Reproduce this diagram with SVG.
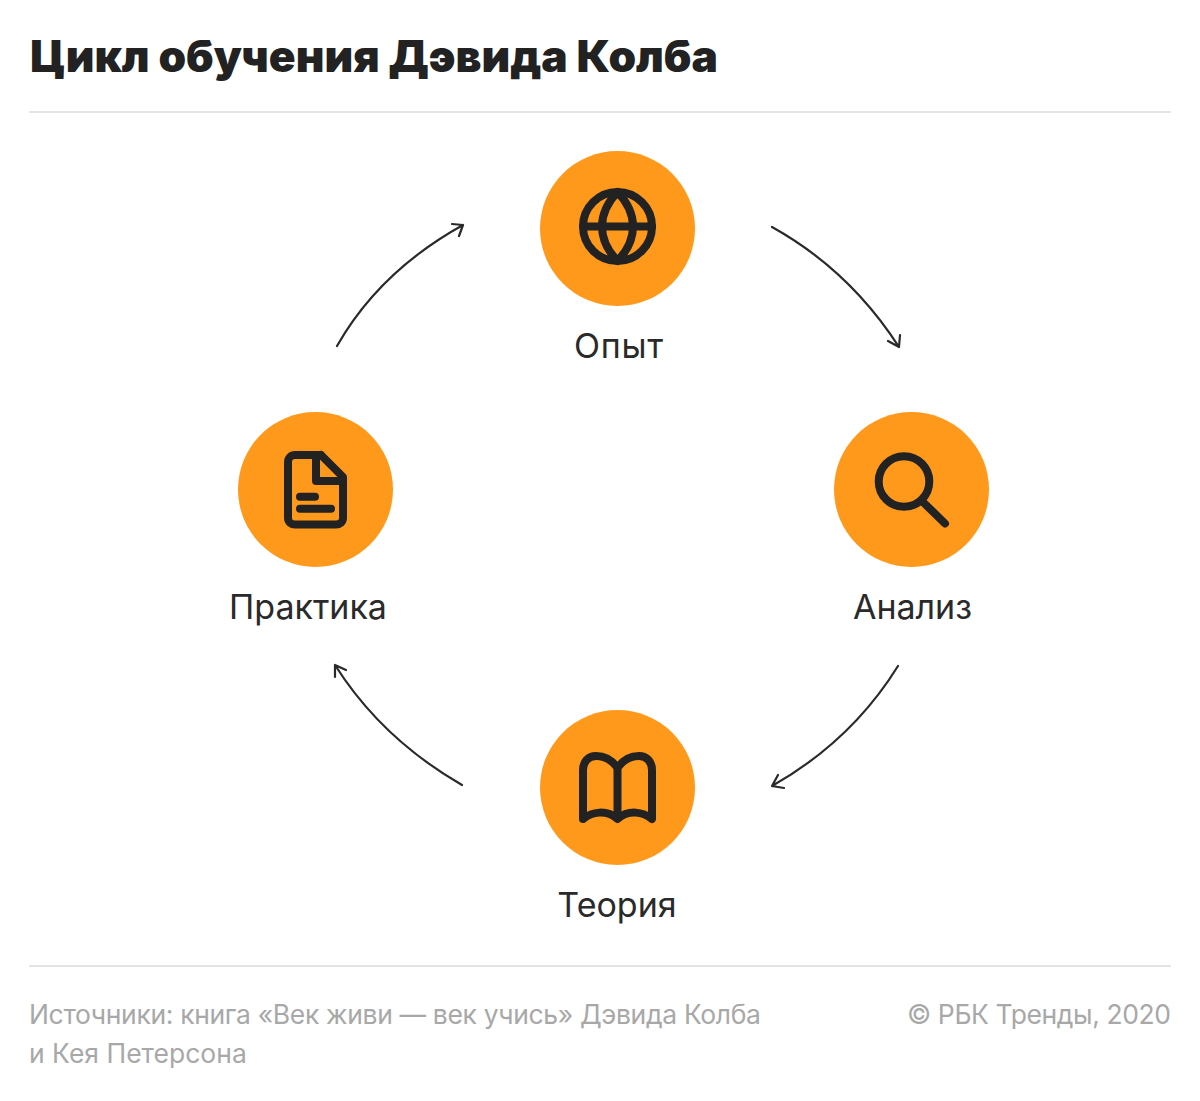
<svg xmlns="http://www.w3.org/2000/svg" width="1200" height="1101" viewBox="0 0 1200 1101">
<style>
text{font-family:"Inter","Roboto","Liberation Sans",sans-serif}
.title{font-size:44px;font-weight:900;fill:#222222}
.lab{font-size:34px;fill:#2a2a2a;text-anchor:middle;font-weight:400}
.foot{font-size:26.5px;fill:#a8a8a8}
.rule{stroke:#e4e4e4;stroke-width:2;fill:none}
.disc{fill:#ff991c}
.ic{fill:none;stroke:#222222;stroke-width:8;stroke-linecap:round;stroke-linejoin:round}
.arc{fill:none;stroke:#2a2a2a;stroke-width:2.2;stroke-linecap:round;stroke-linejoin:round}
</style>
<rect width="1200" height="1101" fill="#ffffff"/>
<text class="title" x="30" y="72" textLength="688" lengthAdjust="spacingAndGlyphs">Цикл обучения Дэвида Колба</text>
<path class="rule" d="M29 112H1171M29 966H1171"/>
<g id="connectors">
<path class="arc" d="M772 227C826 257 868 299 899 347M888 341L899 347L900 335"/>
<path class="arc" d="M898 666C867 716 825 756 772 786M784 788L772 786L778 775"/>
<path class="arc" d="M462 785C410 755 366 714 335 665M335 677L335 665L346 670"/>
<path class="arc" d="M337 346C366 295 409 255 463 225M452 224L463 225L459 236"/>
</g>
<g id="node-opyt">
<circle class="disc" cx="617.500" cy="228.500" r="77.500"/>
<circle class="ic" cx="617.500" cy="226.500" r="34.500"/>
<path class="ic" d="M583 226.500H652M617.500 192C607 203 602 215 602 226.500S607 250 617.500 261C628 250 633 238 633 226.500S628 203 617.500 192Z"/>
<text class="lab" x="618.500" y="358" textLength="89">Опыт</text>
</g>
<g id="node-analiz">
<circle class="disc" cx="911.500" cy="489.500" r="77.500"/>
<circle class="ic" cx="904" cy="481.500" r="25.300"/>
<path class="ic" d="M924 503L945 523.500"/>
<text class="lab" x="912.500" y="619" textLength="119">Анализ</text>
</g>
<g id="node-teoriya">
<circle class="disc" cx="617.500" cy="787.500" r="77.500"/>
<path class="ic" d="M617.500 768C612 760 604 756 596 756C588 756 583 762 583 770V819C592 812 606 809 617.500 819C629 809 643 812 652 819V770C652 762 647 756 639 756C631 756 623 760 617.500 768V817"/>
<text class="lab" x="617" y="917">Теория</text>
</g>
<g id="node-praktika">
<circle class="disc" cx="315.500" cy="489.500" r="77.500"/>
<path class="ic" d="M321 455H295C291 455 288 458 288 462V518C288 522 291 524.500 295 524.500H336C340 524.500 343 522 343 518V477L321 455M316 455V481H343"/>
<path class="ic" d="M300 496.700H315M300 508.700H331"/>
<text class="lab" x="308" y="619">Практика</text>
</g>
<text class="foot" x="29" y="1024" textLength="732">Источники: книга «Век живи — век учись» Дэвида Колба</text>
<text class="foot" x="29" y="1063">и Кея Петерсона</text>
<text class="foot" x="907" y="1024" textLength="264">© РБК Тренды, 2020</text>
</svg>
